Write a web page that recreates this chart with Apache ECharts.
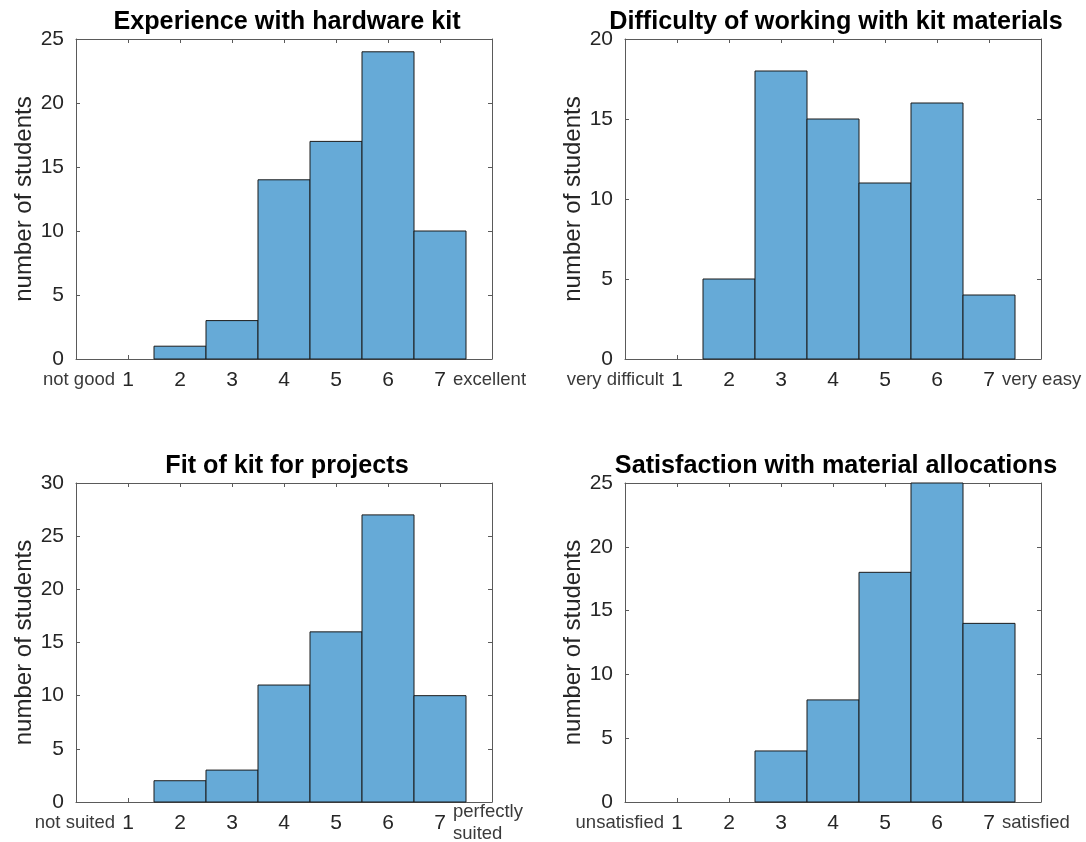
<!DOCTYPE html>
<html>
<head>
<meta charset="utf-8">
<script src="https://cdn.jsdelivr.net/npm/echarts@6/dist/echarts.min.js"></script>
<style>
  html, body { margin: 0; padding: 0; background: #fff; }
  #chart { width: 1086px; height: 842px; }
</style>
</head>
<body>
<div id="chart"></div>
<script>
// ---- data ----
const xTickValues = [0, 1, 2, 3, 4, 5, 6, 7, 8];
const ratings = [1, 2, 3, 4, 5, 6, 7];

const titles = [
  'Experience with hardware kit',
  'Difficulty of working with kit materials',
  'Fit of kit for projects',
  'Satisfaction with material allocations'
];

const experienceCounts = [0, 1, 3, 14, 17, 24, 10];
const difficultyCounts = [0, 5, 18, 15, 11, 16, 4];
const fitCounts = [0, 2, 3, 11, 16, 27, 10];
const satisfactionCounts = [0, 0, 4, 8, 18, 25, 14];

const experienceLabels = ['not good', '1', '2', '3', '4', '5', '6', '7', 'excellent'];
const difficultyLabels = ['very difficult', '1', '2', '3', '4', '5', '6', '7', 'very easy'];
const fitLabels = ['not suited', '1', '2', '3', '4', '5', '6', '7', 'perfectly\nsuited'];
const satisfactionLabels = ['unsatisfied', '1', '2', '3', '4', '5', '6', '7', 'satisfied'];

const yMax = [25, 20, 30, 25];
const yInterval = [5, 5, 5, 5];
const yName = 'number of students';

// ---- layout / style ----
const FONT = "'Liberation Sans', Arial, Helvetica, sans-serif";
const grids = [
  { left: 76, top: 39, width: 416, height: 320 },
  { left: 625, top: 39, width: 416, height: 320 },
  { left: 76, top: 483, width: 416, height: 319 },
  { left: 625, top: 483, width: 416, height: 319 }
];
const titleTops = [5, 5, 449, 449];
const AXIS_COLOR = '#5a5a5a';
const BAR_FILL = '#66AAD7';
const BAR_EDGE = '#1b1b1b';

const countsAll = [experienceCounts, difficultyCounts, fitCounts, satisfactionCounts];
const labelsAll = [experienceLabels, difficultyLabels, fitLabels, satisfactionLabels];

const xAxes = [], yAxes = [], series = [], title = [];

function lineCfg() {
  return { show: true, onZero: false, lineStyle: { color: AXIS_COLOR, width: 1 } };
}
function tickCfg() {
  return { show: true, inside: true, length: 4, lineStyle: { color: AXIS_COLOR } };
}

grids.forEach((g, i) => {
  const labels = labelsAll[i];
  title.push({
    text: titles[i],
    left: g.left + g.width / 2 - 2,
    top: titleTops[i],
    textAlign: 'center',
    textStyle: { fontFamily: FONT, fontSize: 25.2, fontWeight: 'bold', color: '#000' }
  });
  // bottom x axis (labels)
  xAxes.push({
    gridIndex: i, type: 'value', position: 'bottom',
    min: 0, max: 8, interval: 1,
    axisLine: lineCfg(),
    axisTick: tickCfg(),
    splitLine: { show: false },
    axisLabel: {
      show: true, margin: 21, verticalAlign: 'middle',
      showMinLabel: true, showMaxLabel: true, hideOverlap: false,
      formatter: function (v) {
        const k = xTickValues.indexOf(v);
        if (k < 0) return '';
        const t = labels[k];
        if (k === 0) {
          return t.split('\n').map(s => '{lo|' + s + '}').join('\n');
        }
        if (k === xTickValues.length - 1) {
          return t.split('\n').map(s => '{hi|' + s + '}').join('\n');
        }
        return '{d|' + t + '}';
      },
      rich: {
        d: { fontFamily: FONT, fontSize: 21, color: '#262626', lineHeight: 22 },
        lo: { fontFamily: FONT, fontSize: 18.5, color: '#3a3a3a', lineHeight: 22, width: 78, align: 'right' },
        hi: { fontFamily: FONT, fontSize: 18.5, color: '#3a3a3a', lineHeight: 22, width: 78, align: 'left' }
      }
    }
  });
  // top x axis (box + ticks)
  xAxes.push({
    gridIndex: i, type: 'value', position: 'top',
    min: 0, max: 8, interval: 1,
    axisLine: lineCfg(),
    axisTick: tickCfg(),
    splitLine: { show: false },
    axisLabel: { show: false }
  });
  // left y axis
  yAxes.push({
    gridIndex: i, type: 'value', position: 'left',
    min: 0, max: yMax[i], interval: yInterval[i],
    name: yName, nameLocation: 'middle', nameGap: 38,
    nameTextStyle: { fontFamily: FONT, fontSize: 24, color: '#262626' },
    axisLine: lineCfg(),
    axisTick: tickCfg(),
    splitLine: { show: false },
    axisLabel: { show: true, margin: 12, fontFamily: FONT, fontSize: 21, color: '#262626',
                 showMinLabel: true, showMaxLabel: true }
  });
  // right y axis (box + ticks)
  yAxes.push({
    gridIndex: i, type: 'value', position: 'right',
    min: 0, max: yMax[i], interval: yInterval[i],
    axisLine: lineCfg(),
    axisTick: tickCfg(),
    splitLine: { show: false },
    axisLabel: { show: false }
  });

  series.push({
    type: 'custom',
    xAxisIndex: 2 * i,
    yAxisIndex: 2 * i,
    encode: { x: 0, y: 1 },
    data: ratings.map((r, k) => [r, countsAll[i][k]]),
    renderItem: function (params, api) {
      const x = api.value(0), y = api.value(1);
      if (!y) return;
      const p1 = api.coord([x - 0.5, y]);
      const p2 = api.coord([x + 0.5, 0]);
      return {
        type: 'rect',
        shape: { x: p1[0], y: p1[1], width: p2[0] - p1[0], height: p2[1] - p1[1] },
        style: { fill: BAR_FILL, stroke: BAR_EDGE, lineWidth: 1 }
      };
    },
    z: 1
  });
});

const chart = echarts.init(document.getElementById('chart'), null, { renderer: 'canvas' });
chart.setOption({
  backgroundColor: '#ffffff',
  animation: false,
  title: title,
  grid: grids.map(g => Object.assign({ containLabel: false, outerBoundsMode: 'none' }, g)),
  xAxis: xAxes,
  yAxis: yAxes,
  series: series
});
</script>
</body>
</html>
